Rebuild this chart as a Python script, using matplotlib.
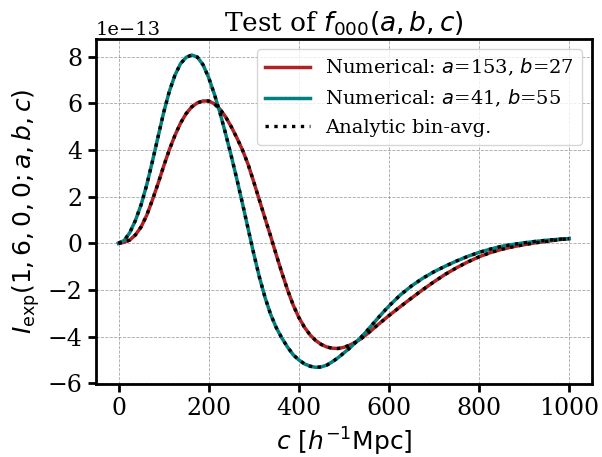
import matplotlib.pyplot as plt
import numpy as np

plt.rcParams['font.family'] = 'DejaVu Serif'
plt.rcParams['mathtext.fontset'] = 'dejavusans'

# separation c in h^-1 Mpc (finer sampling where the curves bend)
c_vals = np.concatenate([np.arange(0, 600.1, 12.5), np.arange(625, 1000.1, 25)])

# units of 1e-13
f_a153_b27 = [0.0, 0.04, 0.14, 0.36, 0.7, 1.2, 1.85, 2.55, 3.3, 4.0,
              4.62, 5.15, 5.56, 5.85, 6.02, 6.1, 6.1, 5.98, 5.75, 5.42,
              5.0, 4.52, 4.0, 3.38, 2.63, 1.85, 1.07, 0.3, -0.5, -1.27,
              -2.0, -2.65, -3.18, -3.6, -3.93, -4.17, -4.34, -4.45, -4.5, -4.51,
              -4.46, -4.37, -4.25, -4.1, -3.91, -3.71, -3.5, -3.3, -3.1,
              -2.72, -2.35, -1.99, -1.65, -1.33, -1.05, -0.8, -0.58, -0.4, -0.26,
              -0.15, -0.06, 0.02, 0.08, 0.15, 0.2]
f_a41_b55 = [0.0, 0.12, 0.46, 0.98, 1.65, 2.5, 3.5, 4.55, 5.6, 6.5,
             7.2, 7.7, 7.97, 8.07, 7.98, 7.65, 7.1, 6.4, 5.6, 4.7,
             3.75, 2.75, 1.7, 0.62, -0.45, -1.45, -2.32, -3.05, -3.62, -4.07,
             -4.45, -4.78, -5.0, -5.17, -5.27, -5.32, -5.3, -5.22, -5.07, -4.9,
             -4.7, -4.5, -4.27, -4.04, -3.78, -3.5, -3.22, -2.95, -2.69,
             -2.22, -1.83, -1.5, -1.22, -0.98, -0.76, -0.56, -0.39, -0.25, -0.13,
             -0.05, 0.02, 0.08, 0.13, 0.17, 0.2]

scale = 1e-13
y1 = np.array(f_a153_b27) * scale
y2 = np.array(f_a41_b55) * scale

fig = plt.figure(figsize=(6.02, 4.57), dpi=100)
ax = fig.add_axes([0.1595, 0.1604, 0.8235, 0.7534])

ax.plot(c_vals, y1, color="#b22222", lw=2.5, label=r"Numerical: $a$=153, $b$=27")
ax.plot(c_vals, y2, color="#008080", lw=2.5, label=r"Numerical: $a$=41, $b$=55")
ax.plot(c_vals, y1, color="black", ls=":", lw=2.4, label="Analytic bin-avg.")
ax.plot(c_vals, y2, color="black", ls=":", lw=2.4)

ax.set_xlim(-50, 1050)
ax.set_ylim(-6.02e-13, 8.74e-13)
ax.set_yticks(np.arange(-6, 9, 2) * scale)

ax.grid(True, ls="--", color="gray", alpha=0.7, lw=0.6)
for s in ax.spines.values():
    s.set_linewidth(2)
ax.tick_params(labelsize=17, width=2, length=6)
ax.yaxis.get_offset_text().set_fontsize(14)

ax.set_xlabel(r"$c\ [h^{-1}{\rm Mpc}]$", fontsize=18)
ax.set_ylabel(r"$I_{\rm exp}(1,6,0,0;a,b,c)$", fontsize=18)
ax.set_title(r"Test of $f_{000}(a,b,c)$", fontsize=19)
ax.legend(fontsize=14, loc="upper right", handlelength=2.3)

fig.savefig("out.png", dpi=100)
